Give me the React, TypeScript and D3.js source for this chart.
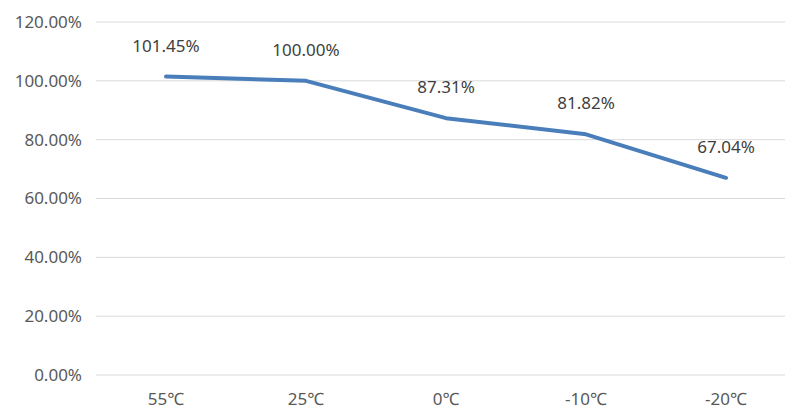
import React from "react";
import * as d3 from "d3";

const categories = ["55℃", "25℃", "0℃", "-10℃", "-20℃"];
const values = [101.45, 100.0, 87.31, 81.82, 67.04];
const yTicks = [0, 20, 40, 60, 80, 100, 120];

const W = 785;
const H = 412;
const margin = { left: 96, right: -11, top: 22, bottom: 37 };
const FONT = "'Noto Sans', 'Noto Sans CJK SC', sans-serif";

export default function App() {
  const x = d3
    .scaleBand<string>()
    .domain(categories)
    .range([margin.left, W - margin.right]);
  const y = d3
    .scaleLinear()
    .domain([0, 120])
    .range([H - margin.bottom, margin.top]);

  const cx = (c: string) => (x(c) ?? 0) + x.bandwidth() / 2;
  const line = d3
    .line<number>()
    .x((_, i) => cx(categories[i]))
    .y((v) => y(v));

  return (
    <svg
      width={W}
      height={H}
      style={{ position: "absolute", left: 0, top: 0, background: "#fff" }}
    >
      {yTicks.map((t) => (
        <g key={t}>
          <line
            x1={margin.left}
            x2={W}
            y1={y(t)}
            y2={y(t)}
            stroke="#d9d9d9"
            strokeWidth={1}
          />
          <text
            x={82}
            y={y(t)}
            dy="0.35em"
            textAnchor="end"
            fontFamily={FONT}
            fontSize={17}
            fill="#595959"
          >
            {t.toFixed(2)}%
          </text>
        </g>
      ))}
      {categories.map((c) => (
        <text
          key={c}
          x={cx(c)}
          y={H - margin.bottom + 30}
          textAnchor="middle"
          fontFamily={FONT}
          fontSize={17}
          fill="#595959"
        >
          {c}
        </text>
      ))}
      <path
        d={line(values) ?? ""}
        fill="none"
        stroke="#4a7ebb"
        strokeWidth={4}
        strokeLinejoin="round"
        strokeLinecap="round"
      />
      {values.map((v, i) => (
        <text
          key={i}
          x={cx(categories[i])}
          y={y(v) - 25}
          textAnchor="middle"
          fontFamily={FONT}
          fontSize={17}
          fill="#404040"
        >
          {v.toFixed(2)}%
        </text>
      ))}
    </svg>
  );
}
